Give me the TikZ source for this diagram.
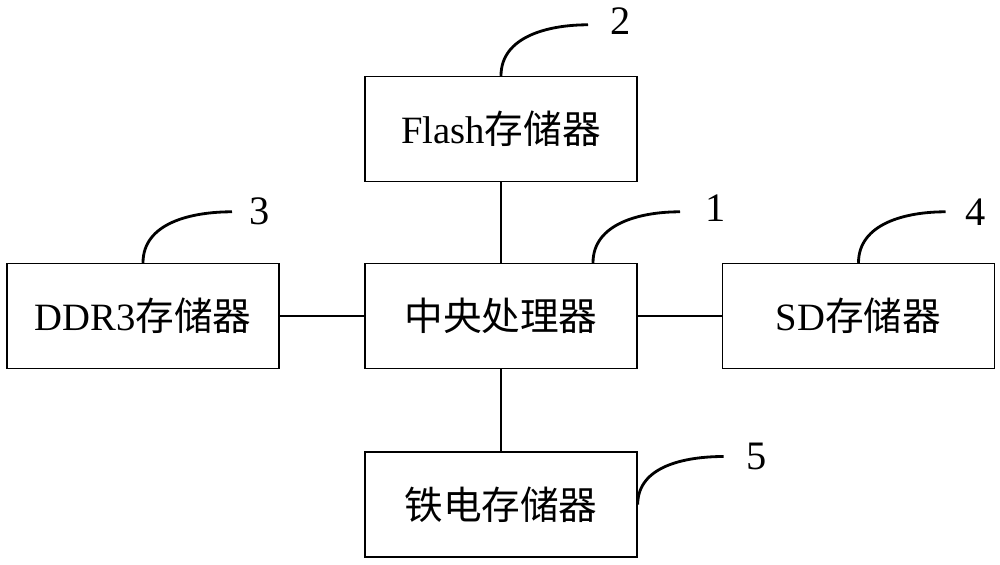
\documentclass[tikz,border=0pt]{standalone}
\usepackage{fontspec}
\setmainfont{Liberation Serif}
\newfontfamily\cjk{Noto Sans CJK SC}
\usepackage{tikz}
\usetikzlibrary{positioning}
\tikzstyle{rect} = [
    rectangle,
    align=center,
    minimum width=5.44cm,
    minimum height=2.1cm,
    text centered,
    draw=black,
    line width=0.8pt,
    font=\fontsize{22}{26}\selectfont,
]
\tikzstyle{num} = [inner sep=0pt, font=\fontsize{23}{26}\selectfont]
\tikzstyle{line} = [line width=0.8pt]
\tikzstyle{leader} = [line width=1.6pt]

\begin{document}
\begin{tikzpicture}
    \useasboundingbox (0,0) rectangle (20,11.28);
    \node (cpu) [rect] at (10.02, 4.96) {\cjk 中央处理器};
    \node (flash) [rect] at (10.02, 8.70) {Flash{\cjk 存储器}};
    \node (ddr) [rect] at (2.86, 4.96) {DDR3{\cjk 存储器}};
    \node (sd) [rect] at (17.17, 4.96) {SD{\cjk 存储器}};
    \node (fe) [rect] at (10.02, 1.19) {\cjk 铁电存储器};

    % connections to the processor
    \path [line]
        (cpu) edge (flash)
        (cpu) edge (ddr)
        (cpu) edge (sd)
        (cpu) edge (fe);

    % reference numerals
    \draw [leader] (cpu.north) ++(1.84,0) to[out=90,in=180] ++(1.74,1.02) coordinate (l1);
    \draw [leader] (flash.north) to[out=90,in=180] ++(1.74,1.02) coordinate (l2);
    \draw [leader] (ddr.north) to[out=90,in=180] ++(1.78,1.02) coordinate (l3);
    \draw [leader] (sd.north) to[out=90,in=180] ++(1.74,1.02) coordinate (l4);
    \draw [leader] (fe.east) to[out=90,in=180] ++(1.72,0.96) coordinate (l5);
    \node (n1) [num, right=0.5cm of l1, yshift=0.08cm] {1};
    \node (n2) [num, right=0.45cm of l2, yshift=0.08cm] {2};
    \node (n3) [num, right=0.35cm of l3] {3};
    \node (n4) [num, right=0.4cm of l4] {4};
    \node (n5) [num, right=0.45cm of l5] {5};
\end{tikzpicture}
\end{document}
